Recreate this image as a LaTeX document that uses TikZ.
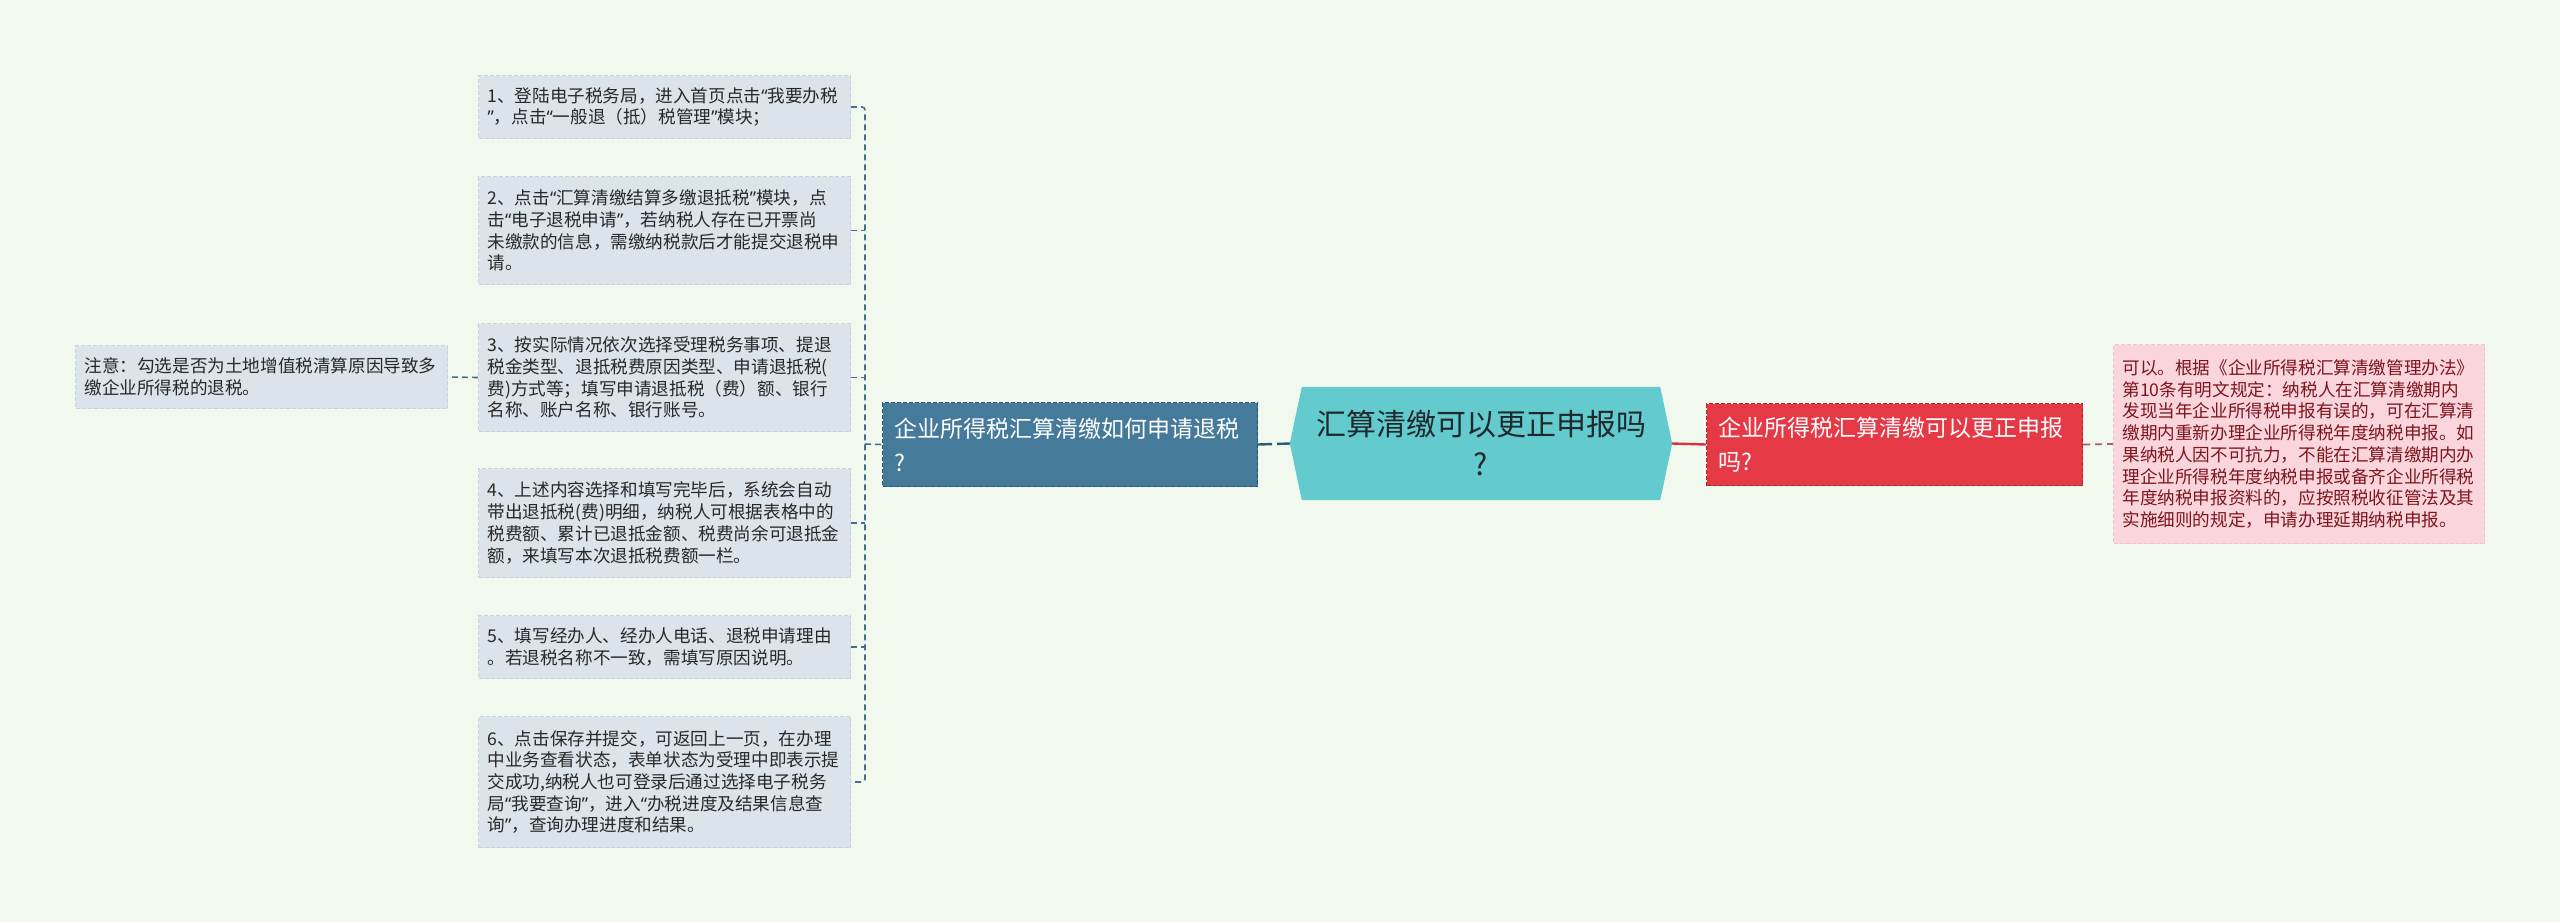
\documentclass[tikz,border=0pt]{standalone}
\usepackage{fontspec}
\newfontfamily\cjk{Noto Sans CJK SC}
\newfontfamily\qfnt{Noto Sans}
\newcommand\zq{{\qfnt “}}
\newcommand\yq{{\qfnt ”}}
\usetikzlibrary{calc,backgrounds}
\definecolor{bgc}{RGB}{241,249,239}
\definecolor{stepfill}{RGB}{218,228,234}
\definecolor{stepedge}{RGB}{196,212,222}
\definecolor{steptext}{RGB}{40,40,40}
\definecolor{bluefill}{RGB}{69,122,155}
\definecolor{blueedge}{RGB}{45,85,115}
\definecolor{hexfill}{RGB}{99,203,206}
\definecolor{hextext}{RGB}{30,40,45}
\definecolor{redfill}{RGB}{230,57,70}
\definecolor{rededge}{RGB}{185,35,45}
\definecolor{pinkfill}{RGB}{250,214,220}
\definecolor{pinkedge}{RGB}{240,196,204}
\definecolor{pinktext}{RGB}{125,20,30}
\definecolor{brkc}{RGB}{70,110,140}
\definecolor{qlinec}{RGB}{45,90,125}
\definecolor{rlinec}{RGB}{220,50,60}
\definecolor{plinec}{RGB}{170,95,105}
\begin{document}
\begin{tikzpicture}[x=1pt,y=-1pt,
  base/.style={inner ysep=0pt, align=left, anchor=north west},
  stepbox/.style={base, draw=stepedge, fill=stepfill, dash pattern=on 4pt off 2pt, line width=1pt,
    minimum width=372pt, text width=354pt, inner xsep=9pt,
    font=\cjk\fontsize{17.6}{21.7}\selectfont, text=steptext},
  bluebox/.style={base, draw=blueedge, fill=bluefill, dash pattern=on 4pt off 2pt, line width=1pt,
    minimum width=375pt, text width=351pt, inner xsep=12pt, minimum height=84pt,
    font=\cjk\fontsize{23}{34}\selectfont, text=white},
  redbox/.style={base, draw=rededge, fill=redfill, dash pattern=on 4pt off 2pt, line width=1pt,
    minimum width=376pt, text width=352pt, inner xsep=12pt, minimum height=82pt,
    font=\cjk\fontsize{23}{34}\selectfont, text=white},
  pinkbox/.style={base, draw=pinkedge, fill=pinkfill, dash pattern=on 4pt off 2pt, line width=1pt,
    minimum width=371pt, text width=353pt, inner xsep=9pt, minimum height=199pt,
    font=\cjk\fontsize{17.6}{21.7}\selectfont, text=pinktext},
  hexnode/.style={inner sep=0pt, minimum width=382pt, minimum height=113pt, align=center,
    font=\cjk\fontsize{30}{40}\selectfont, text=hextext},
  brk/.style={draw=brkc, line width=1.6pt, dash pattern=on 6pt off 4pt},
  qline/.style={draw=qlinec, line width=2.4pt, dash pattern=on 14pt off 5pt},
  rline/.style={draw=rlinec, line width=2.4pt},
  pline/.style={draw=plinec, line width=1.8pt, dash pattern=on 7pt off 5pt}
]
\begin{scope}[on background layer]
\fill[bgc] (0,0) rectangle (2560,922);
\end{scope}
\useasboundingbox (0,0) rectangle (2560,922);

\node[stepbox, minimum height=63pt] (s1) at (478,75) {1、登陆电子税务局，进入首页点击\zq 我要办税\\\yq，点击\zq 一般退（抵）税管理\yq 模块；};
\node[stepbox, minimum height=108pt] (s2) at (478,176) {2、点击\zq 汇算清缴结算多缴退抵税\yq 模块，点\\击\zq 电子退税申请\yq，若纳税人存在已开票尚\\未缴款的信息，需缴纳税款后才能提交退税申\\请。};
\node[stepbox, minimum height=108pt] (s3) at (478,323) {3、按实际情况依次选择受理税务事项、提退\\税金类型、退抵税费原因类型、申请退抵税(\\费)方式等；填写申请退抵税（费）额、银行\\名称、账户名称、银行账号。};
\node[stepbox, minimum height=109pt] (s4) at (478,468) {4、上述内容选择和填写完毕后，系统会自动\\带出退抵税(费)明细，纳税人可根据表格中的\\税费额、累计已退抵金额、税费尚余可退抵金\\额，来填写本次退抵税费额一栏。};
\node[stepbox, minimum height=63pt] (s5) at (478,615) {5、填写经办人、经办人电话、退税申请理由\\。若退税名称不一致，需填写原因说明。};
\node[stepbox, minimum height=131pt] (s6) at (478,716) {6、点击保存并提交，可返回上一页，在办理\\中业务查看状态，表单状态为受理中即表示提\\交成功,纳税人也可登录后通过选择电子税务\\局\zq 我要查询\yq，进入\zq 办税进度及结果信息查\\询\yq，查询办理进度和结果。};
\node[stepbox, minimum height=63pt] (note) at (75,345) {注意：勾选是否为土地增值税清算原因导致多\\缴企业所得税的退税。};

\node[bluebox] (q1) at (882,402) {企业所得税汇算清缴如何申请退税\\?};
\node[hexnode] (hex) at (1481,443.5) {汇算清缴可以更正申报吗\\?};
\node[redbox] (r1) at (1706,403) {企业所得税汇算清缴可以更正申报\\吗?};
\node[pinkbox] (p1) at (2113,344) {可以。根据《企业所得税汇算清缴管理办法》\\第10条有明文规定：纳税人在汇算清缴期内\\发现当年企业所得税申报有误的，可在汇算清\\缴期内重新办理企业所得税年度纳税申报。如\\果纳税人因不可抗力，不能在汇算清缴期内办\\理企业所得税年度纳税申报或备齐企业所得税\\年度纳税申报资料的，应按照税收征管法及其\\实施细则的规定，申请办理延期纳税申报。};

\begin{scope}[on background layer]
\fill[hexfill] (hex.west) -- ($(hex.north west)+(12,0)$) -- ($(hex.north east)+(-12,0)$) -- (hex.east) -- ($(hex.south east)+(-12,0)$) -- ($(hex.south west)+(12,0)$) -- cycle;
\end{scope}

\coordinate (bj) at (865,444);
\draw[brk, rounded corners=3pt] (s1.east) -- (s1.east -| bj) -- (s6.east -| bj) -- (s6.east);
\foreach \i in {2,3,4,5} {\draw[brk] (s\i.east) -- (s\i.east -| bj);}
\draw[brk] (bj) -- (q1.west);
\draw[brk] (s3.west) -- (note.east);
\draw[qline] (q1.east) -- (hex.west);
\draw[rline] (hex.east) -- (r1.west);
\draw[pline] (r1.east) -- (p1.west);
\end{tikzpicture}
\end{document}
